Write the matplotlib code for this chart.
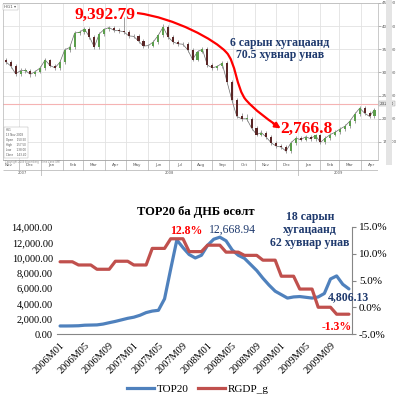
import numpy as np
import pandas as pd
import matplotlib
matplotlib.use('Agg')
import matplotlib.pyplot as plt
import matplotlib.dates as mdates
from matplotlib.path import Path
from matplotlib.patches import PathPatch, Rectangle, FancyArrowPatch
from matplotlib.lines import Line2D
from matplotlib.ticker import FuncFormatter

# weekly copper candles, Nov 2007 - Apr 2009
first_week = '2007-11-12'
opens = [326, 323, 314, 297, 304, 304, 296, 302, 310, 327,
         315, 310, 322, 349, 354, 385, 387, 394, 377, 355,
         383, 393, 397, 391, 390, 388, 379, 378, 368, 357,
         358, 366, 380, 398, 377, 366, 362, 361, 349, 328,
         345, 350, 316, 310, 313, 320, 280, 240, 205, 200,
         200, 180, 166, 170, 160, 148, 141, 139, 130, 148,
         158, 155, 161, 157, 164, 149, 158, 166, 171, 178,
         184, 195, 210, 223, 212, 205]
highs = [331, 327, 318, 309, 310, 308, 306, 314, 331, 330,
         319, 326, 353, 359, 389, 392, 399, 398, 381, 387,
         397, 401, 401, 395, 420, 392, 383, 382, 372, 362,
         370, 384, 405, 402, 381, 370, 366, 365, 353, 349,
         355, 354, 320, 317, 325, 324, 284, 244, 212, 210,
         204, 184, 176, 174, 164, 152, 145, 143, 152, 162,
         162, 165, 165, 168, 168, 162, 170, 175, 182, 188,
         199, 214, 227, 227, 216, 224]
lows = [319, 310, 293, 292, 299, 291, 292, 298, 306, 311,
        305, 306, 318, 345, 350, 381, 383, 373, 350, 351,
        379, 389, 387, 386, 384, 375, 374, 364, 353, 353,
        354, 362, 376, 373, 362, 358, 357, 345, 324, 324,
        341, 312, 306, 306, 309, 276, 236, 201, 196, 195,
        176, 162, 162, 156, 144, 137, 135, 126, 126, 144,
        151, 151, 153, 153, 145, 145, 154, 162, 167, 174,
        180, 191, 206, 208, 201, 201]
closes = [323, 314, 297, 304, 304, 296, 302, 310, 327, 315,
          310, 322, 349, 354, 385, 387, 394, 377, 355, 383,
          393, 397, 391, 390, 388, 379, 378, 368, 357, 358,
          366, 380, 398, 377, 366, 362, 361, 349, 328, 345,
          350, 316, 310, 313, 320, 280, 240, 205, 200, 200,
          180, 166, 170, 160, 148, 141, 139, 130, 148, 158,
          155, 161, 157, 164, 149, 158, 166, 171, 178, 184,
          195, 210, 223, 212, 205, 220]
price_ticks = [150, 200, 250, 300, 350, 400, 450]
last_price = 232.60

# monthly TOP20 index and real GDP growth (%), 2006-2009
years = [2006, 2007, 2008, 2009]
months = [f'{y}M{m:02d}' for y in years for m in range(1, 13)]
top20 = [1050, 1050, 1060, 1080, 1150, 1170, 1190, 1300, 1480, 1650,
         1850, 2050, 2200, 2450, 2800, 3000, 3100, 4600, 8500, 12300,
         11300, 10400, 9950, 10300, 11600, 12400, 12668.94, 12200, 11000, 10300,
         9900, 9100, 8300, 7300, 6400, 5600, 5150, 4700, 4850, 4900,
         4800, 4700, 4850, 5300, 7200, 7600, 6500, 5900]
rgdp_g = [8.5, 8.5, 8.5, 7.9, 7.9, 7.9, 7.1, 7.1, 7.1, 8.6, 8.6, 8.6,
          7.9, 7.9, 7.9, 11.0, 11.0, 11.0, 12.8, 12.8, 12.8, 10.4, 10.4, 10.4,
          11.6, 11.6, 11.6, 10.3, 10.3, 10.3, 9.7, 9.7, 9.7, 8.8, 8.8, 8.8,
          5.8, 5.8, 5.8, 3.4, 3.4, 3.4, 0.0, 0.0, 0.0, -1.3, -1.3, -1.3]

W, H = 397, 416
SERIF = ['Liberation Serif', 'DejaVu Serif']
NAVY = '#1f3a6e'
GRAYTXT = '#5a5a5a'

fig = plt.figure(figsize=(W / 100, H / 100), dpi=100)


def box(x0, y0, x1, y1):
    # pixel box (from top-left) -> figure fraction rect
    return [x0 / W, 1 - y1 / H, (x1 - x0) / W, (y1 - y0) / H]


def fxy(x, y):
    return (x / W, 1 - y / H)


# ---------------- top: candlestick screenshot ----------------
ax1 = fig.add_axes(box(3, 3, 378, 160))
dates = pd.date_range(first_week, periods=len(closes), freq='7D')
xd = mdates.date2num(dates)
o = np.array(opens, dtype=float)
c = np.array(closes, dtype=float)
body = np.where(np.abs(c - o) < 1, 1.0, c - o)
cols = np.where(c >= o, '#5b9e4c', '#5a2626')
ax1.plot(xd, closes, color='#6a6a6a', lw=0.5, zorder=2)
ax1.vlines(xd, lows, highs, color='#8f8f8f', lw=0.6, zorder=2)
ax1.bar(xd, body, bottom=o, width=3.0, color=cols, lw=0, zorder=3)

x0 = mdates.date2num(pd.Timestamp('2007-11-08'))
x1 = mdates.date2num(pd.Timestamp('2009-04-25'))
ax1.set_xlim(x0, x1)
ax1.set_ylim(111, 450)
ax1.set_yticks(price_ticks)
ax1.yaxis.tick_right()
ax1.yaxis.set_major_formatter(FuncFormatter(lambda v, p: f'{v:.2f}'))
ax1.tick_params(axis='y', labelsize=3, colors='#777777', labelcolor=GRAYTXT,
                length=2, pad=1, width=0.4)
ax1.xaxis.set_major_locator(mdates.MonthLocator())
ax1.tick_params(axis='x', length=0, labelbottom=False)
ax1.grid(True, color='#e2e2e2', lw=0.6)
ax1.set_axisbelow(True)
for s in ax1.spines.values():
    s.set_color('#b5b5b5')
    s.set_linewidth(0.5)
ax1.axhline(last_price, color='#f5b3b3', lw=0.8, zorder=1)
ax1.text(1.004, last_price, f'{last_price:.2f}', transform=ax1.get_yaxis_transform(),
         fontsize=3, va='center', ha='left', color='#333333',
         bbox=dict(boxstyle='square,pad=0.15', fc='#ececec', ec='#999999', lw=0.3))
ax1.text(0.004, 0.988, 'HG1 \u25be', transform=ax1.transAxes, fontsize=3,
         va='top', ha='left', color=GRAYTXT,
         bbox=dict(boxstyle='square,pad=0.3', fc='white', ec='#aaaaaa', lw=0.3))
ax1.text(0.006, 0.02, 'HG1\n 13 Nov 2008\n Open    150.50\n High     157.50\n'
         ' Low      138.00\n Close    143.40',
         transform=ax1.transAxes, fontsize=2, linespacing=1.3, va='bottom',
         ha='left', color=GRAYTXT,
         bbox=dict(boxstyle='square,pad=0.4', fc='white', ec='#aaaaaa', lw=0.3))

# date strip under the candles
axm = fig.add_axes(box(3, 160, 378, 176), sharex=ax1)
axm.set_ylim(0, 16)
axm.set_axis_off()
axm.hlines([0.3, 6, 15.7], x0, x1, color='#9c9c9c', lw=0.4)
month_starts = pd.date_range('2007-12-01', '2009-04-01', freq='MS')
axm.vlines(mdates.date2num(month_starts), 6, 16, color='#9c9c9c', lw=0.4)
year_starts = pd.to_datetime(['2008-01-01', '2009-01-01'])
axm.vlines(mdates.date2num(year_starts), 0, 6, color='#9c9c9c', lw=0.4)
for m in pd.date_range('2007-11-01', '2009-04-01', freq='MS'):
    axm.text(mdates.date2num(m + pd.Timedelta(days=15)), 11, m.strftime('%b'),
             fontsize=3, ha='center', va='center', color=GRAYTXT)
edges = [x0] + list(mdates.date2num(year_starts)) + [x1]
for i, yr in enumerate(['2007', '2008', '2009']):
    axm.text((edges[i] + edges[i + 1]) / 2, 3, yr, fontsize=2.6,
             ha='center', va='center', color=GRAYTXT)
fig.text(*fxy(5, 162.5), 'Copyright 2009 Bloomberg   Time Zone GMT', fontsize=1.8,
         color='#888888', va='center')

fig.add_artist(Rectangle(fxy(386, 165), 6 / W, 165 / H, transform=fig.transFigure,
                         fc='#e4e4e4', ec='none'))

# red arrow and annotations
curve = [(137, 13), (175, 18), (215, 40), (226, 52),
         (236, 62), (236, 88), (246, 100),
         (256, 111), (266, 118), (276, 125)]
codes = [Path.MOVETO] + [Path.CURVE4] * 9
fig.add_artist(PathPatch(Path([fxy(*p) for p in curve], codes),
                         transform=fig.transFigure, fc='none', ec='#ff0000', lw=1.6))
fig.add_artist(FancyArrowPatch(fxy(271, 122), fxy(283, 130), transform=fig.transFigure,
                               arrowstyle='-|>', mutation_scale=8, color='#ff0000', lw=1.6))
fig.text(*fxy(105, 15), '9,392.79', color='#ff0000', fontsize=12.5, weight='bold',
         family=SERIF, ha='center', va='center')
fig.text(*fxy(306, 129), '2,766.8', color='#ff0000', fontsize=12.5, weight='bold',
         family=SERIF, ha='center', va='center')
fig.text(*fxy(280, 49), '6 сарын хугацаанд\n70.5 хувнар унав', color=NAVY,
         fontsize=8.5, weight='bold', family=SERIF, ha='center', va='center',
         linespacing=1.0)

# ---------------- bottom: TOP20 vs GDP growth ----------------
ax = fig.add_axes(box(57, 227, 352, 334))
xs = np.arange(len(months))
ax.plot(xs, top20, color='#4f81bd', lw=2.3, solid_capstyle='round', zorder=3)
ax.set_xlim(-0.5, len(months) - 0.5)
ax.set_ylim(0, 14000)
ax.set_yticks(range(0, 14001, 2000))
ax.yaxis.set_major_formatter(FuncFormatter(lambda v, p: f'{v:,.2f}'))
ax.set_xticks(xs[::4])
ax.set_xticklabels(months[::4], rotation=45, ha='right', va='top',
                   rotation_mode='anchor', family=SERIF, fontsize=7.5)
ax.tick_params(axis='x', length=0, pad=5)
ax.tick_params(axis='y', length=0, pad=3)
for lab in ax.get_yticklabels():
    lab.set_family(SERIF)
    lab.set_fontsize(7.5)
for s in ['top', 'left', 'right']:
    ax.spines[s].set_visible(False)
ax.spines['bottom'].set_color('#868686')
ax.spines['bottom'].set_linewidth(0.8)

ax2 = ax.twinx()
ax2.plot(xs, rgdp_g, color='#c0504d', lw=2.3, solid_capstyle='round')
ax2.set_ylim(-5, 15)
ax2.set_yticks([-5, 0, 5, 10, 15])
ax2.yaxis.set_major_formatter(FuncFormatter(lambda v, p: f'{v:.1f}%'))
ax2.tick_params(axis='y', length=3, width=0.8, color='#868686', pad=2)
for lab in ax2.get_yticklabels():
    lab.set_family(SERIF)
    lab.set_fontsize(8)
for s in ['top', 'left', 'bottom']:
    ax2.spines[s].set_visible(False)
ax2.spines['right'].set_color('#868686')
ax2.spines['right'].set_linewidth(0.8)

fig.text(*fxy(196, 212), 'TOP20 ба ДНБ өсөлт', fontsize=9, weight='bold',
         family=SERIF, ha='center', va='center')
fig.text(*fxy(186, 231), '12.8%', color='#ff0000', fontsize=8.5, weight='bold',
         family=SERIF, ha='center', va='center')
fig.text(*fxy(232, 230), '12,668.94', color=NAVY, fontsize=8.5,
         family=SERIF, ha='center', va='center')
fig.text(*fxy(310, 230), '18 сарын\nхугацаанд\n62 хувнар унав', color=NAVY,
         fontsize=8.5, weight='bold', family=SERIF, ha='center', va='center',
         linespacing=1.1)
fig.text(*fxy(349, 297), '4,806.13', color=NAVY, fontsize=8.5, weight='bold',
         family=SERIF, ha='center', va='center')
fig.text(*fxy(337, 327), '-1.3%', color='#ff0000', fontsize=8.5, weight='bold',
         family=SERIF, ha='center', va='center')

handles = [Line2D([], [], color='#4f81bd', lw=2.3),
           Line2D([], [], color='#c0504d', lw=2.3)]
fig.legend(handles, ['TOP20', 'RGDP_g'], loc='center', bbox_to_anchor=fxy(198, 389),
           ncol=2, frameon=False, handlelength=2.4, handletextpad=0.3,
           columnspacing=0.8, prop={'family': SERIF, 'size': 8})

fig.savefig('out.png', dpi=100)
